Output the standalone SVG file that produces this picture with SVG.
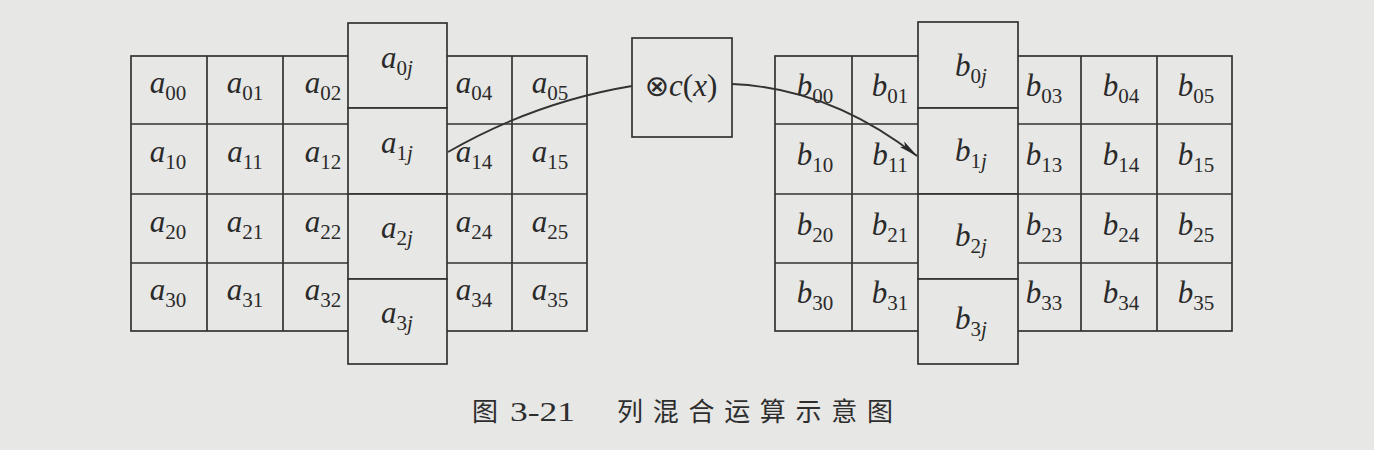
<svg xmlns="http://www.w3.org/2000/svg" width="1374" height="450" viewBox="0 0 1374 450">
<style>
.bg{fill:#e7e7e5}
.cell{fill:#e7e7e5;stroke:#333;stroke-width:1.7}
.ln{stroke:#333;stroke-width:1.7;fill:none}
.t{font-family:"Liberation Serif","Times New Roman","DejaVu Serif",serif;font-size:31px;fill:#2a2a2a;text-anchor:middle}
.v{font-style:italic}
.s{font-size:21px;font-style:normal}
.cap{font-family:"Noto Sans CJK SC",sans-serif;font-size:26px;fill:#2e2e2e}
.num{font-family:"Liberation Serif","Times New Roman",serif;font-size:28px;fill:#2e2e2e}
.conn{stroke:#333;stroke-width:1.8;fill:none}
</style>
<defs>
<marker id="ah" markerWidth="20" markerHeight="10" refX="19" refY="5" orient="auto" markerUnits="userSpaceOnUse">
<path d="M0,1.5 L20,5 L0,8.5 L4,5 Z" fill="#2a2a2a"/>
</marker>
</defs>
<rect class="bg" x="0" y="0" width="1374" height="450"/>

<g id="gridA">
<rect class="cell" x="131" y="56" width="456" height="275"/>
<path class="ln" d="M207,56V331M283,56V331M512,56V331M131,124H587M131,194H587M131,263H587"/>
<text class="t" x="168" y="93"><tspan class="v">a</tspan><tspan class="s" dy="7">00</tspan></text>
<text class="t" x="245" y="93"><tspan class="v">a</tspan><tspan class="s" dy="7">01</tspan></text>
<text class="t" x="323" y="93"><tspan class="v">a</tspan><tspan class="s" dy="7">02</tspan></text>
<text class="t" x="474" y="93"><tspan class="v">a</tspan><tspan class="s" dy="7">04</tspan></text>
<text class="t" x="550" y="93"><tspan class="v">a</tspan><tspan class="s" dy="7">05</tspan></text>
<text class="t" x="168" y="162"><tspan class="v">a</tspan><tspan class="s" dy="7">10</tspan></text>
<text class="t" x="245" y="162"><tspan class="v">a</tspan><tspan class="s" dy="7">11</tspan></text>
<text class="t" x="323" y="162"><tspan class="v">a</tspan><tspan class="s" dy="7">12</tspan></text>
<text class="t" x="474" y="162"><tspan class="v">a</tspan><tspan class="s" dy="7">14</tspan></text>
<text class="t" x="550" y="162"><tspan class="v">a</tspan><tspan class="s" dy="7">15</tspan></text>
<text class="t" x="168" y="232"><tspan class="v">a</tspan><tspan class="s" dy="7">20</tspan></text>
<text class="t" x="245" y="232"><tspan class="v">a</tspan><tspan class="s" dy="7">21</tspan></text>
<text class="t" x="323" y="232"><tspan class="v">a</tspan><tspan class="s" dy="7">22</tspan></text>
<text class="t" x="474" y="232"><tspan class="v">a</tspan><tspan class="s" dy="7">24</tspan></text>
<text class="t" x="550" y="232"><tspan class="v">a</tspan><tspan class="s" dy="7">25</tspan></text>
<text class="t" x="168" y="300"><tspan class="v">a</tspan><tspan class="s" dy="7">30</tspan></text>
<text class="t" x="245" y="300"><tspan class="v">a</tspan><tspan class="s" dy="7">31</tspan></text>
<text class="t" x="323" y="300"><tspan class="v">a</tspan><tspan class="s" dy="7">32</tspan></text>
<text class="t" x="474" y="300"><tspan class="v">a</tspan><tspan class="s" dy="7">34</tspan></text>
<text class="t" x="550" y="300"><tspan class="v">a</tspan><tspan class="s" dy="7">35</tspan></text>
</g>

<g id="colA">
<rect class="cell" x="348" y="23" width="99" height="85"/>
<rect class="cell" x="348" y="108" width="99" height="86"/>
<rect class="cell" x="348" y="194" width="99" height="85"/>
<rect class="cell" x="348" y="279" width="99" height="85"/>
<text class="t" x="397" y="68"><tspan class="v">a</tspan><tspan class="s" dy="7">0<tspan class="v">j</tspan></tspan></text>
<text class="t" x="397" y="153"><tspan class="v">a</tspan><tspan class="s" dy="7">1<tspan class="v">j</tspan></tspan></text>
<text class="t" x="397" y="238"><tspan class="v">a</tspan><tspan class="s" dy="7">2<tspan class="v">j</tspan></tspan></text>
<text class="t" x="397" y="323"><tspan class="v">a</tspan><tspan class="s" dy="7">3<tspan class="v">j</tspan></tspan></text>
</g>

<g id="mix">
<rect class="cell" x="632" y="38" width="100" height="99"/>
<text class="t" x="681" y="96"><tspan style="font-family:'DejaVu Sans',sans-serif;font-size:29px">⊗</tspan><tspan class="v">c</tspan>(<tspan class="v">x</tspan>)</text>
</g>

<g id="gridB">
<rect class="cell" x="775" y="56" width="457" height="275"/>
<path class="ln" d="M852,56V331M1081,56V331M1157,56V331M775,124H1232M775,194H1232M775,263H1232"/>
<text class="t" x="815" y="96"><tspan class="v">b</tspan><tspan class="s" dy="7">00</tspan></text>
<text class="t" x="890" y="96"><tspan class="v">b</tspan><tspan class="s" dy="7">01</tspan></text>
<text class="t" x="1044" y="96"><tspan class="v">b</tspan><tspan class="s" dy="7">03</tspan></text>
<text class="t" x="1121" y="96"><tspan class="v">b</tspan><tspan class="s" dy="7">04</tspan></text>
<text class="t" x="1196" y="96"><tspan class="v">b</tspan><tspan class="s" dy="7">05</tspan></text>
<text class="t" x="815" y="165"><tspan class="v">b</tspan><tspan class="s" dy="7">10</tspan></text>
<text class="t" x="890" y="165"><tspan class="v">b</tspan><tspan class="s" dy="7">11</tspan></text>
<text class="t" x="1044" y="165"><tspan class="v">b</tspan><tspan class="s" dy="7">13</tspan></text>
<text class="t" x="1121" y="165"><tspan class="v">b</tspan><tspan class="s" dy="7">14</tspan></text>
<text class="t" x="1196" y="165"><tspan class="v">b</tspan><tspan class="s" dy="7">15</tspan></text>
<text class="t" x="815" y="235"><tspan class="v">b</tspan><tspan class="s" dy="7">20</tspan></text>
<text class="t" x="890" y="235"><tspan class="v">b</tspan><tspan class="s" dy="7">21</tspan></text>
<text class="t" x="1044" y="235"><tspan class="v">b</tspan><tspan class="s" dy="7">23</tspan></text>
<text class="t" x="1121" y="235"><tspan class="v">b</tspan><tspan class="s" dy="7">24</tspan></text>
<text class="t" x="1196" y="235"><tspan class="v">b</tspan><tspan class="s" dy="7">25</tspan></text>
<text class="t" x="815" y="303"><tspan class="v">b</tspan><tspan class="s" dy="7">30</tspan></text>
<text class="t" x="890" y="303"><tspan class="v">b</tspan><tspan class="s" dy="7">31</tspan></text>
<text class="t" x="1044" y="303"><tspan class="v">b</tspan><tspan class="s" dy="7">33</tspan></text>
<text class="t" x="1121" y="303"><tspan class="v">b</tspan><tspan class="s" dy="7">34</tspan></text>
<text class="t" x="1196" y="303"><tspan class="v">b</tspan><tspan class="s" dy="7">35</tspan></text>
</g>

<g id="colB">
<rect class="cell" x="918" y="22" width="100" height="86"/>
<rect class="cell" x="918" y="108" width="100" height="86"/>
<rect class="cell" x="918" y="194" width="100" height="85"/>
<rect class="cell" x="918" y="279" width="100" height="85"/>
<text class="t" x="971" y="76"><tspan class="v">b</tspan><tspan class="s" dy="7">0<tspan class="v">j</tspan></tspan></text>
<text class="t" x="971" y="161"><tspan class="v">b</tspan><tspan class="s" dy="7">1<tspan class="v">j</tspan></tspan></text>
<text class="t" x="971" y="246"><tspan class="v">b</tspan><tspan class="s" dy="7">2<tspan class="v">j</tspan></tspan></text>
<text class="t" x="971" y="329"><tspan class="v">b</tspan><tspan class="s" dy="7">3<tspan class="v">j</tspan></tspan></text>
</g>

<g id="connectors">
<path class="conn" d="M448,152 Q535,102 632,86"/>
<path class="conn" d="M732,84 Q830,88 917,156" marker-end="url(#ah)"/>
</g>

<g id="caption">
<text class="cap" x="472" y="421">图</text>
<text class="num" x="510" y="421" textLength="65" lengthAdjust="spacingAndGlyphs">3-21</text>
<text class="cap" x="617" y="421" textLength="276" lengthAdjust="spacing">列混合运算示意图</text>
</g>
</svg>
